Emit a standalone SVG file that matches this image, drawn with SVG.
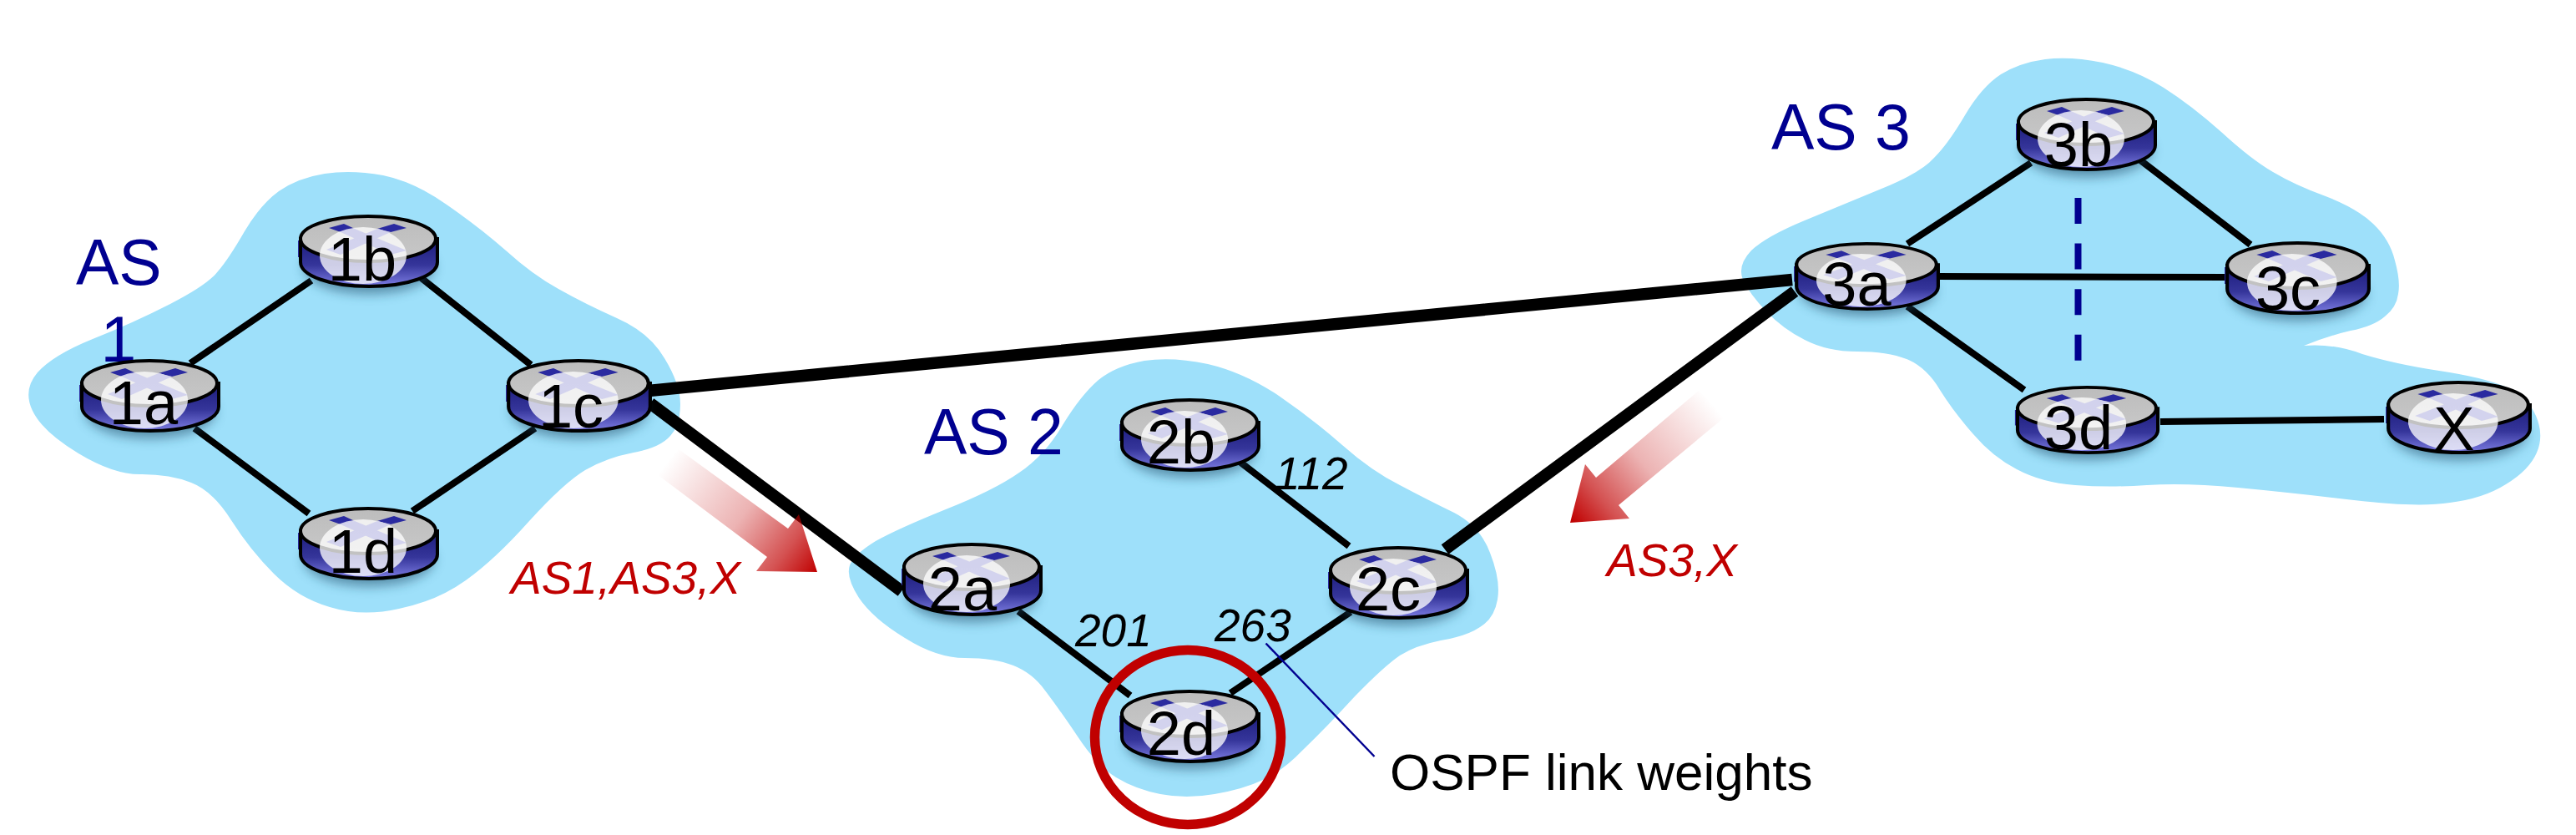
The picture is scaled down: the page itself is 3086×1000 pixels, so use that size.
<svg xmlns="http://www.w3.org/2000/svg" width="3086" height="1000" viewBox="0 0 3086 1000">
<style>
.blob{fill:#9ee0fa}
.as{font:77px "Liberation Sans",Arial,sans-serif;fill:#000090}
.rl{font:74px "Liberation Sans",Arial,sans-serif;fill:#000;text-anchor:middle}
.w{font:italic 55px "Liberation Sans",Arial,sans-serif;fill:#000}
.r{font:italic 55px "Liberation Sans",Arial,sans-serif;fill:#c00000}
.l{stroke:#000;stroke-width:8;fill:none}
.t{stroke:#000;stroke-width:14.500;fill:none}
</style>
<defs>
<linearGradient id="body" x1="0" y1="0" x2="0" y2="1"><stop offset="0" stop-color="#1c1c7c"/><stop offset=".55" stop-color="#35359a"/><stop offset="1" stop-color="#7c7ce2"/></linearGradient>
<linearGradient id="top" x1="0" y1="0" x2="0" y2="1"><stop offset="0" stop-color="#bcbcbc"/><stop offset="1" stop-color="#c8c8c8"/></linearGradient>
<linearGradient id="a1" gradientUnits="userSpaceOnUse" x1="800" y1="552" x2="979" y2="685"><stop offset="0" stop-color="#c00000" stop-opacity="0"/><stop offset=".5" stop-color="#c00000" stop-opacity=".3"/><stop offset=".8" stop-color="#c00000" stop-opacity=".68"/><stop offset="1" stop-color="#c00000"/></linearGradient>
<linearGradient id="a2" gradientUnits="userSpaceOnUse" x1="2052" y1="484" x2="1883" y2="624"><stop offset="0" stop-color="#c00000" stop-opacity="0"/><stop offset=".5" stop-color="#c00000" stop-opacity=".3"/><stop offset=".8" stop-color="#c00000" stop-opacity=".68"/><stop offset="1" stop-color="#c00000"/></linearGradient>
<filter id="sh" x="-20%" y="-40%" width="140%" height="180%"><feGaussianBlur stdDeviation="7"/></filter>
<g id="router">
<ellipse cx="1" cy="62" rx="78" ry="32" fill="#1a4a66" opacity=".55" filter="url(#sh)"/>
<path d="M-84 30h4v20h-4ZM80 30h4v18h-4Z" fill="#2a2aa0"/>
<path d="M-81 28V56C-81 72-46 85 1 85S83 72 83 56V28Z" fill="url(#body)" stroke="#000" stroke-width="4"/>
<ellipse cx="0" cy="28" rx="81" ry="27" fill="url(#top)" stroke="#000" stroke-width="4"/>
<path d="M-47 15-29 10-16 16-33 20ZM11 16 31 10 46 15 27 20Z" fill="#2a2aa0"/>
<ellipse cx="-6" cy="48" rx="52" ry="34" fill="#fff" opacity=".76"/>
<path d="M-33 20-16 16 46 42 27 47ZM11 16 27 20-33 47-50 41Z" fill="#c8c8ec" opacity=".75"/>
</g>
</defs>
<rect width="3086" height="1000" fill="#fff"/>
<g id="clouds">
<path class="blob" d="M389 208Q421 203 459 210Q497 218 535 245Q574 272 606 300Q638 329 669 346Q701 364 739 381Q778 398 796 429Q815 460 815 484Q815 509 803 522Q791 536 759 542Q727 548 701 563Q676 578 634 624Q593 670 558 695Q523 720 478 729Q434 739 395 727Q357 716 328 687Q300 659 277 623Q255 588 229 578Q204 568 170 568Q137 569 94 543Q51 517 39 492Q27 467 45 446Q64 425 111 406Q159 387 204 364Q249 341 261 325Q274 310 293 277Q312 245 334 229Q357 213 389 208Z"/>
<path class="blob" d="M1371 432Q1405 427 1447 436Q1490 446 1532 474Q1574 503 1608 533Q1643 564 1677 581Q1711 599 1742 614Q1773 630 1785 662Q1798 695 1794 718Q1790 741 1773 751Q1757 762 1726 767Q1696 773 1677 785Q1658 798 1623 834Q1589 871 1562 897Q1536 924 1513 934Q1490 945 1455 951Q1421 957 1390 951Q1360 945 1337 931Q1314 917 1291 882Q1268 848 1252 827Q1237 806 1214 797Q1191 788 1156 788Q1122 788 1084 764Q1046 741 1029 716Q1013 691 1018 677Q1023 664 1049 648Q1076 633 1133 610Q1191 587 1221 566Q1252 545 1273 509Q1295 473 1316 455Q1337 438 1371 432Z"/>
<path class="blob" d="M2450 71Q2480 67 2519 75Q2559 84 2592 105Q2625 126 2661 158Q2697 191 2723 206Q2750 222 2786 235Q2823 249 2843 268Q2863 287 2869 312Q2876 337 2873 352Q2871 368 2857 379Q2843 391 2816 396Q2790 402 2760 414Q2795 411 2830 424Q2869 436 2922 444Q2975 452 3001 463Q3028 475 3038 498Q3048 521 3039 542Q3030 563 3002 580Q2975 597 2935 602Q2896 608 2820 599Q2744 590 2681 584Q2618 578 2572 581Q2526 584 2486 581Q2446 578 2416 562Q2387 547 2364 520Q2341 494 2324 467Q2308 440 2284 430Q2261 421 2225 421Q2189 421 2162 407Q2136 394 2116 373Q2096 352 2088 335Q2081 318 2098 300Q2116 283 2162 264Q2208 245 2254 226Q2301 207 2317 189Q2334 172 2354 138Q2374 104 2397 89Q2420 75 2450 71Z"/>
</g>
<g id="as-labels">
<text class="as" x="91" y="341">AS</text>
<text class="as" x="142" y="433" text-anchor="middle">1</text>
<text class="as" x="1107" y="544">AS 2</text>
<text class="as" x="2122" y="179">AS 3</text>
</g>
<g id="connectors">
<path class="l" d="M228 435 373 336M501 330 636 437M233 513 370 615M641 513 494 612"/>
<path class="l" d="M1480 549 1616 654M1220 732 1354 833M1618 733 1474 830"/>
<path class="l" d="M2285 292 2433 195M2559 188 2696 293M2320 331 2668 332M2285 367 2425 467M2588 505 2856 502"/>
<path class="t" d="M777 468 2147 335M779 483 1080 708M1731 658 2150 349"/>
<path d="M2489.500 237V433" fill="none" stroke="#000090" stroke-width="8" stroke-dasharray="31 23.600"/>
</g>
<g id="r1a"><use href="#router" x="179" y="431"/><text class="rl" x="172" y="508">1a</text></g>
<g id="r1b"><use href="#router" x="441" y="258"/><text class="rl" x="434" y="336">1b</text></g>
<g id="r1c"><use href="#router" transform="translate(693 431) scale(1.035 1)"/><text class="rl" x="684" y="512">1c</text></g>
<g id="r1d"><use href="#router" x="441" y="608"/><text class="rl" x="435" y="686">1d</text></g>
<g id="r2a"><use href="#router" x="1164" y="651"/><text class="rl" x="1153" y="731">2a</text></g>
<g id="r2b"><use href="#router" x="1425" y="478"/><text class="rl" x="1415" y="555">2b</text></g>
<g id="r2c"><use href="#router" x="1675" y="655"/><text class="rl" x="1663" y="731">2c</text></g>
<g id="r2d"><use href="#router" x="1425" y="827"/><text class="rl" x="1415" y="904">2d</text></g>
<g id="r3a"><use href="#router" transform="translate(2236 291) scale(1.035 .93)"/><text class="rl" x="2224.500" y="366">3a</text></g>
<g id="r3b"><use href="#router" x="2499" y="118"/><text class="rl" x="2490" y="199">3b</text></g>
<g id="r3c"><use href="#router" transform="translate(2752 290) scale(1.035 1)"/><text class="rl" x="2741" y="371">3c</text></g>
<g id="r3d"><path d="M2584 508 2556 533 2538 537Z" fill="#6a6ad0"/><use href="#router" transform="translate(2500 463) scale(1.025 .93)"/><text class="rl" x="2490" y="538">3d</text></g>
<g id="rX"><use href="#router" transform="translate(2945 457) scale(1.035 1)"/><text class="rl" x="2940" y="539">X</text></g>
<g id="annotations">
<path d="M787 568 813 538 944 633 957 616 979 685 906 684 919 667Z" fill="url(#a1)"/>
<path d="M2068 498 2035 468 1912 572 1899 556 1881 626 1952 621 1939 605Z" fill="url(#a2)"/>
<text class="r" x="612" y="711">AS1,AS3,X</text>
<text class="r" x="1925" y="690">AS3,X</text>
<text class="w" x="1527" y="586">112</text>
<text class="w" x="1288" y="774">201</text>
<text class="w" x="1455" y="768">263</text>
<ellipse cx="1423" cy="883" rx="111.500" ry="104.500" fill="none" stroke="#c00000" stroke-width="11.500"/>
<path d="M1516.500 770.500 1646.500 906" fill="none" stroke="#000090" stroke-width="2.500"/>
<text x="1665" y="946" style="font:62px 'Liberation Sans',Arial,sans-serif" fill="#000">OSPF link weights</text>
</g>
</svg>
